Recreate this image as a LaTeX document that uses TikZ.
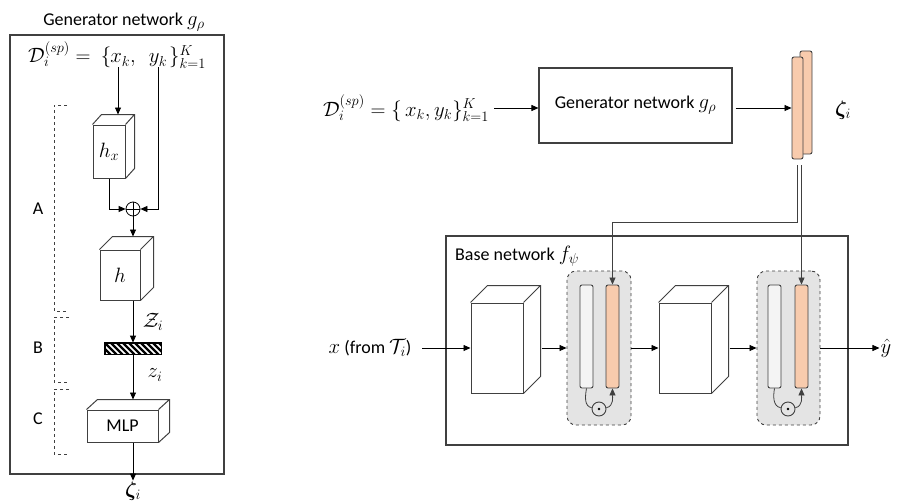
\documentclass[tikz,border=0pt]{standalone}
\usepackage{bm}
\usepackage{fontspec}
\setmainfont{Carlito}
\DeclareMathSizes{18}{21}{14}{11}
\usetikzlibrary{arrows.meta}
\definecolor{zorange}{HTML}{F8CBAD}
\definecolor{edgegray}{HTML}{404040}
\definecolor{blockgray}{HTML}{E4E4E4}
\definecolor{barwhite}{HTML}{F4F4F4}
\newcommand\cubefaces[3]{%
  \draw[cubeline] (#1.north west) -- ++(#2,-#3) -- ([shift={(#2,-#3)}]#1.north east) -- ([shift={(#2,-#3)}]#1.south east) -- (#1.south east) (#1.north east) -- ++(#2,-#3);}
\begin{document}
\begin{tikzpicture}[x=1pt,y=-1pt,
  every node/.style={font=\fontsize{18}{21}\selectfont},
  arr/.style={-{Triangle[length=7pt,width=6pt]}, line width=0.8pt},
  frame/.style={draw=edgegray, line width=1.1pt},
  cubeline/.style={draw=edgegray, line width=1pt},
  front/.style={draw=edgegray, line width=1pt, inner sep=0pt, fill=white},
  bracket/.style={draw=edgegray, dashed, line width=0.7pt},
  gate/.style={draw=edgegray, dashed, line width=0.9pt, fill=blockgray, rounded corners=9pt, inner sep=0pt},
  thinbar/.style={draw=edgegray, line width=0.9pt, rounded corners=2pt, inner sep=0pt, minimum width=13pt, minimum height=103pt},
  odotc/.style={circle, draw=edgegray, line width=0.9pt, minimum size=14pt, inner sep=0pt},
  lab/.style={inner sep=1pt}]
\useasboundingbox (0,0) rectangle (899,503);

% ================= Left panel =================
\node[lab] (ltitle) at (124,22) {Generator network $g_\rho$};
\node[frame, minimum width=214pt, minimum height=439pt, inner sep=0pt] (lframe) at (117,254.5) {};

\node[lab, anchor=base west, inner sep=0pt] (ldl) at (28,63) {$\mathcal{D}_i^{(sp)} =$};
\node[lab, anchor=base, inner sep=0pt] (llb) at (106,63) {$\{$};
\node[lab, anchor=base, inner sep=0pt] (xk) at (123,63) {$x_k,$};
\node[lab, anchor=base, inner sep=0pt] (yk) at (158,63) {$y_k$};
\node[lab, anchor=base west, inner sep=0pt] (lrb) at (169,63) {$\}_{k=1}^{K}$};

% h_x cuboid
\node[front, minimum width=32pt, minimum height=53pt] (hx) at (109,151.5) {$h_x$};
\cubefaces{hx}{9}{10}
\coordinate (hxtop) at ([yshift=10]hx.north);
\node[circle, draw=black, line width=0.8pt, minimum size=14pt, inner sep=0pt] (op) at (133,209) {};
\draw[line width=0.8pt] (op.north) -- (op.south) (op.west) -- (op.east);

% h cuboid
\node[front, minimum width=40pt, minimum height=50pt] (h) at (120,275) {$h$};
\cubefaces{h}{13}{13}
\coordinate (htop) at ([yshift=13]h.north);

% hatched bar
\node[draw=black, line width=0.8pt, minimum width=56pt, minimum height=11pt, inner sep=0pt] (hb) at (133,348.5) {};
\begin{scope}
  \clip (hb.south west) rectangle (hb.north east);
  \foreach \i in {-18,-12,...,60} \draw[line width=2.4pt] ([xshift=\i]hb.north west) -- ++(12,12);
\end{scope}
\draw[line width=0.8pt] (hb.south west) rectangle (hb.north east);

% MLP cuboid
\node[front, minimum width=71pt, minimum height=32pt] (mlp) at (122.5,426) {MLP};
\cubefaces{mlp}{11}{10}
\coordinate (mlptop) at ([yshift=10]mlp.north);
\node[lab] (zl) at (133,491) {$\bm{\zeta}_i$};

% arrows left
\draw[arr] (118,0 |- xk.south) -- (118,0 |- hxtop);
\draw[arr] (hx.south) |- (op.west);
\draw[arr] (yk.south) |- (op.east);
\draw[arr] (op.south) -- (op.south |- htop);
\draw[arr] (op.south |- h.south) -- (hb.north);
\draw[arr] (hb.south) -- (hb.south |- mlptop);
\draw[arr] (hb.south |- mlp.south) -- (zl.north);
\node[lab] (Zlab) at (153,322) {$\mathcal{Z}_i$};
\node[lab] (zlab) at (155,375) {$z_i$};

% brackets
\draw[bracket] (67,105) -- (54,105) -- (54,311) -- (67,311);
\draw[bracket] (69,317) -- (54,317) -- (54,382) -- (69,382);
\draw[bracket] (69,389) -- (54,389) -- (54,454) -- (69,454);
\node[lab] (la) at (38,209) {A};
\node[lab] (lb) at (38,348) {B};
\node[lab] (lc) at (38,419) {C};

% ================= Right panel top =================
\node[lab] (rd) at (406,108) {$\mathcal{D}_i^{(sp)} = \{\,x_k, y_k\}_{k=1}^{K}$};
\node[frame, minimum width=193pt, minimum height=75pt, inner sep=0pt] (gen) at (635.5,105.5) {Generator network $g_\rho$};
\node[draw=edgegray, line width=0.9pt, fill=zorange, rounded corners=2pt, inner sep=0pt, minimum width=12pt, minimum height=103pt] (zb2) at (806,102.5) {};
\node[draw=edgegray, line width=0.9pt, fill=zorange, rounded corners=2pt, inner sep=0pt, minimum width=11pt, minimum height=102pt] (zb1) at (797.5,108) {};
\node[lab] (zr) at (843,110) {$\bm{\zeta}_i$};
\draw[arr] ([xshift=4]rd.east) -- (rd.east -| gen.west);
\draw[arr] ([xshift=3]rd.east -| gen.east) -- (rd.east -| zb1.west);

% ================= Base network =================
\node[frame, minimum width=402pt, minimum height=209pt, inner sep=0pt] (base) at (647,340.5) {};
\node[lab, anchor=west] (btitle) at (454,256) {Base network $f_\psi$};

\node[lab] (xin) at (370,348) {$x$ (from $\mathcal{T}_i$)};

\node[front, minimum width=52pt, minimum height=90pt] (c1) at (497,348) {};
\cubefaces{c1}{17}{17}

\node[gate, minimum width=64pt, minimum height=154pt] (g1) at (599,348) {};
\node[thinbar, fill=barwhite] (w1) at (586.5,336.5) {};
\node[thinbar, fill=zorange] (o1) at (612.5,336.5) {};
\node[odotc] (od1) at (599,409) {};
\fill (od1) circle (1.4pt);

\node[front, minimum width=52pt, minimum height=90pt] (c2) at (685,348) {};
\cubefaces{c2}{17}{17}

\node[gate, minimum width=63pt, minimum height=154pt] (g2) at (788.5,348) {};
\node[thinbar, fill=barwhite] (w2) at (774.5,336.5) {};
\node[thinbar, fill=zorange] (o2) at (801.5,336.5) {};
\node[odotc] (od2) at (788,409) {};
\fill (od2) circle (1.4pt);

\node[lab] (yhat) at (886,348) {$\hat{y}$};

% arrows base
\draw[arr] ([xshift=10]xin.east) -- (c1.west);
\draw[arr] ([xshift=18]c1.east) -- (g1.west);
\draw[arr] (g1.east) -- (c2.west);
\draw[arr] ([xshift=18]c2.east) -- (g2.west);
\draw[arr] (g2.east) -- (g2.east -| yhat.west);

\draw[line width=0.8pt, edgegray] (w1.south) to[out=-100, in=170] (od1.170);
\draw[arr, edgegray] (od1.10) to[out=10, in=-90] (o1.south);
\draw[line width=0.8pt, edgegray] (w2.south) to[out=-100, in=170] (od2.170);
\draw[arr, edgegray] (od2.10) to[out=10, in=-90] (o2.south);

% zeta feeds
\coordinate (zf1) at (797,165);
\coordinate (zf2) at (801.5,165);
\coordinate (bend) at (0,222);
\draw[arr, edgegray] (zf1) -- (zf1 |- bend) -| (o1.north);
\draw[arr, edgegray] (zf2) -- (o2.north);
\end{tikzpicture}
\end{document}
